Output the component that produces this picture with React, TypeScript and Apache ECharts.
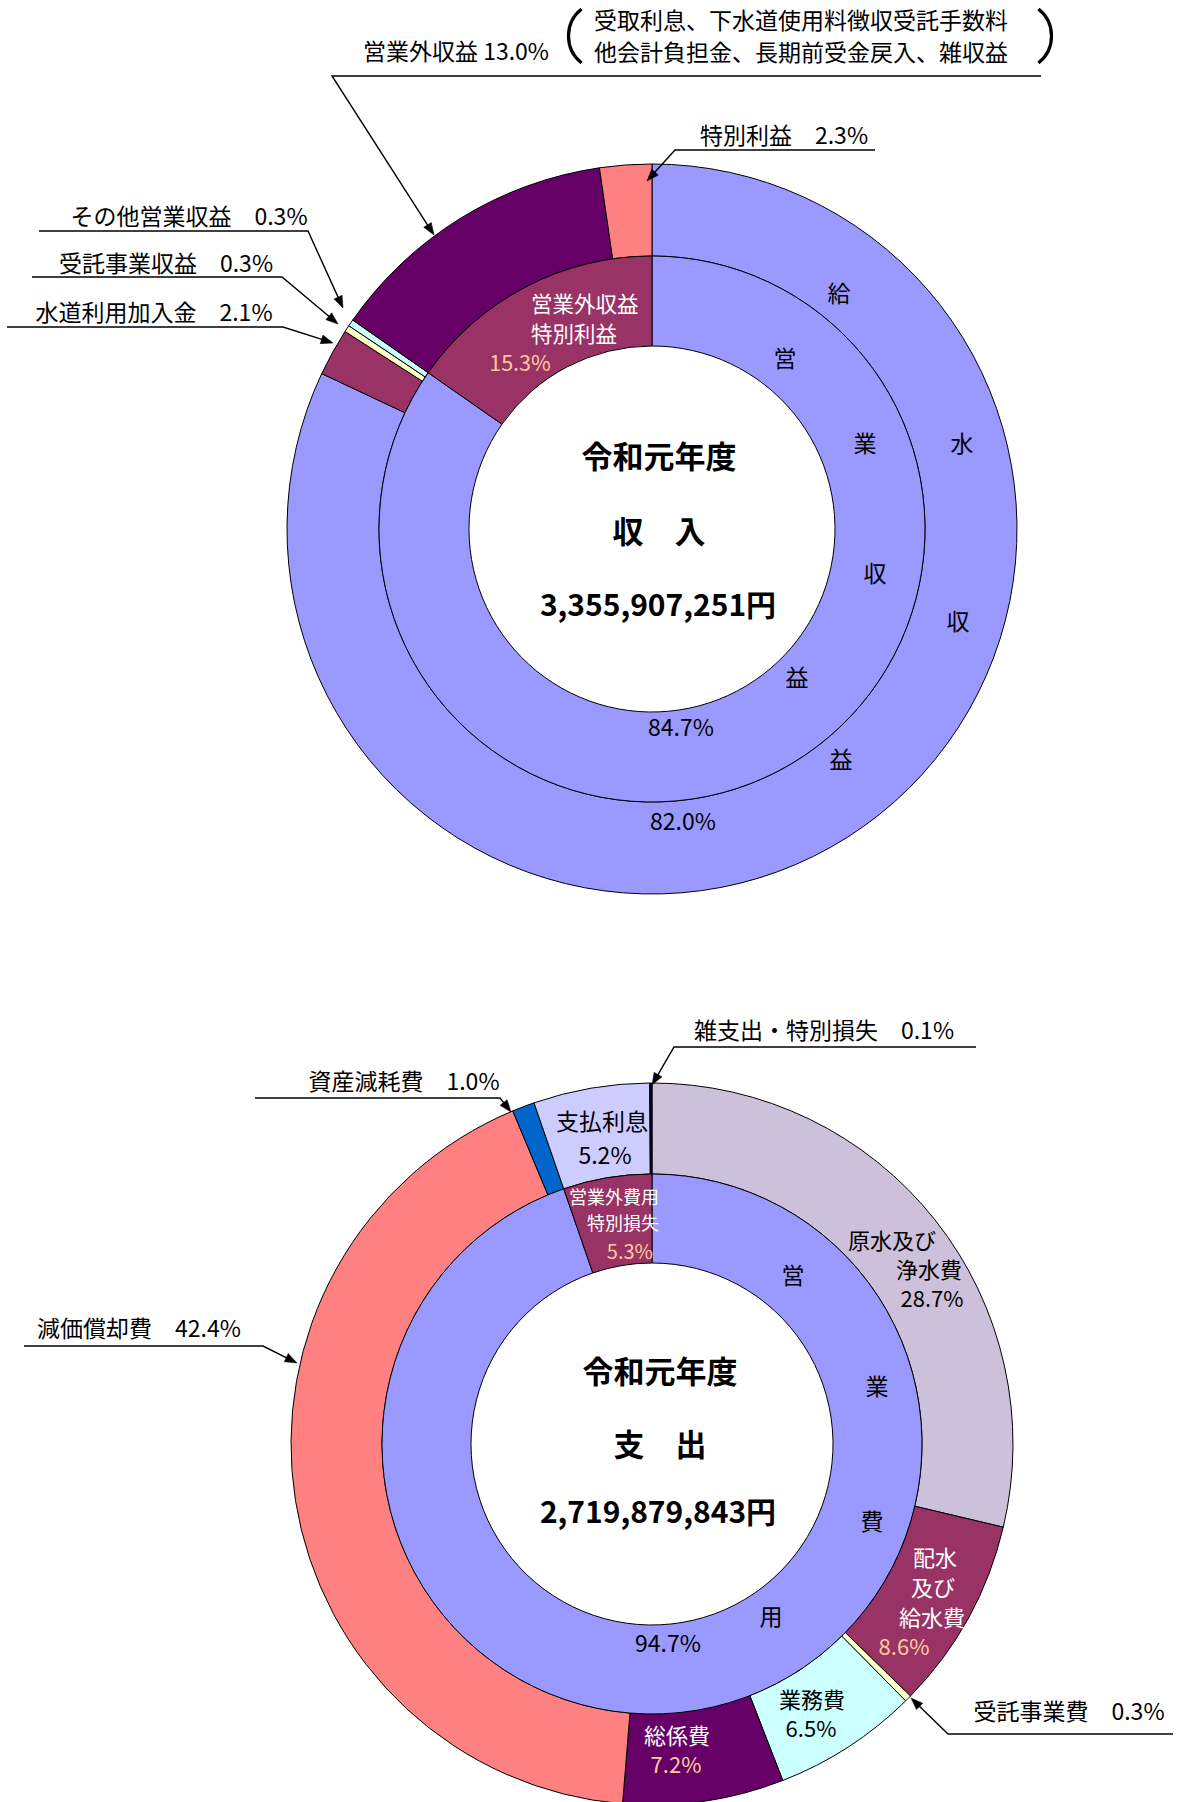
import React, { useEffect, useRef } from "react";
import * as echarts from "echarts";

const W = 1177;
const H = 1802;
const FONT = "'Noto Sans CJK JP', 'Noto Sans', sans-serif";

// ===== 収入 (revenue) =====
const revOuterNames = ["給水収益", "水道利用加入金", "受託事業収益", "その他営業収益", "営業外収益", "特別利益"];
const revOuterValues = [82.0, 2.1, 0.3, 0.3, 13.0, 2.3];
const revOuterColors = ["#9999FF", "#993366", "#FFFFCC", "#CCFFFF", "#660066", "#FF8080"];
const revInnerNames = ["営業収益", "営業外収益・特別利益"];
const revInnerValues = [84.7, 15.3];
const revInnerColors = ["#9999FF", "#993366"];
const revTitle = "令和元年度";
const revTotal = "3,355,907,251円";
const revNote1 = "受取利息、下水道使用料徴収受託手数料";
const revNote2 = "他会計負担金、長期前受金戻入、雑収益";

// ===== 支出 (expense) =====
const expOuterNames = ["原水及び浄水費", "配水及び給水費", "受託事業費", "業務費", "総係費", "減価償却費", "資産減耗費", "支払利息", "雑支出・特別損失"];
const expOuterValues = [28.7, 8.6, 0.3, 6.5, 7.2, 42.4, 1.0, 5.2, 0.1];
const expOuterColors = ["#CCC0DA", "#993366", "#FFFFCC", "#CCFFFF", "#660066", "#FF8080", "#0066CC", "#CCCCFF", "#000040"];
const expInnerNames = ["営業費用", "営業外費用・特別損失"];
const expInnerValues = [94.7, 5.3];
const expInnerColors = ["#9999FF", "#993366"];
const expTotal = "2,719,879,843円";

// geometry
const REV_C = [652, 529];
const EXP_C = [652, 1444];
const DY = -3;

const pct = (v: number) => v.toFixed(1) + "%";

function pie(centerPt: number[], radius: number[], names: string[], values: number[], colors: string[]) {
  return {
    type: "pie",
    center: centerPt,
    radius,
    startAngle: 90,
    clockwise: true,
    silent: true,
    animation: false,
    avoidLabelOverlap: false,
    label: { show: false },
    labelLine: { show: false },
    emphasis: { disabled: true },
    itemStyle: { borderColor: "#000", borderWidth: 1 },
    data: names.map((n, i) => ({ name: n, value: values[i], itemStyle: { color: colors[i] } })),
  };
}

function txt(text: string, x: number, y: number, opts: any = {}) {
  const size = opts.size || 23;
  const style: any = {
    text,
    fill: opts.fill || "#000",
    fontSize: size,
    fontFamily: FONT,
    fontWeight: opts.bold ? "bold" : "normal",
    align: opts.align || "center",
    textAlign: opts.align || "center",
    verticalAlign: "middle",
    textVerticalAlign: "middle",
  };
  return { type: "text", x, y: y + DY, z: 100, silent: true, style };
}

function leader(points: number[][]) {
  const n = points.length;
  const [tx, ty] = points[n - 1];
  const [px, py] = points[n - 2];
  const dx = tx - px;
  const dy = ty - py;
  const len = Math.hypot(dx, dy);
  const ux = dx / len;
  const uy = dy / len;
  const L = 12;
  const hw = 4.5;
  const bx = tx - ux * L;
  const by = ty - uy * L;
  const linePts = points.slice(0, n - 1).concat([[bx + ux * 2, by + uy * 2]]);
  return [
    {
      type: "polyline",
      z: 100,
      silent: true,
      shape: { points: linePts },
      style: { stroke: "#000", lineWidth: 1.4, fill: null },
    },
    {
      type: "polygon",
      z: 100,
      silent: true,
      shape: { points: [[tx, ty], [bx - uy * hw, by + ux * hw], [bx + uy * hw, by - ux * hw]] },
      style: { fill: "#000", stroke: "#000", lineWidth: 0.5 },
    },
  ];
}

function paren(cx: number, cy: number, r: number, left: boolean) {
  const a = 0.9;
  return {
    type: "arc",
    z: 100,
    silent: true,
    shape: left
      ? { cx, cy, r, startAngle: Math.PI - a, endAngle: Math.PI + a, clockwise: true }
      : { cx, cy, r, startAngle: -a, endAngle: a, clockwise: true },
    style: { stroke: "#000", lineWidth: 3.2, fill: null },
  };
}

export default function App() {
  const ref = useRef<HTMLDivElement>(null);

  useEffect(() => {
    if (!ref.current) return;
    const chart = echarts.init(ref.current, null, { renderer: "svg", width: W, height: H });
    const S = "\u3000";
    const white = "#FFFFFF";
    const peach = "#FFCC99";

    const elements: any[] = [
      // ---------- revenue annotations ----------
      txt(revOuterNames[4] + " " + pct(revOuterValues[4]), 456, 53),
      txt(revNote1, 801, 22, { size: 23 }),
      txt(revNote2, 801, 54, { size: 23 }),
      paren(603, 36, 34.5, true),
      paren(1017, 36, 34.5, false),
      ...leader([[1041, 76], [332, 76], [434, 235]]),
      txt(revOuterNames[5] + S + pct(revOuterValues[5]), 784, 137),
      ...leader([[875, 150], [675, 150], [647, 181]]),
      txt(revOuterNames[3] + S + pct(revOuterValues[3]), 189, 218),
      ...leader([[39, 231], [308, 231], [343, 308]]),
      txt(revOuterNames[2] + S + pct(revOuterValues[2]), 166, 265),
      ...leader([[32, 277], [282, 277], [338, 324]]),
      txt(revOuterNames[1] + S + pct(revOuterValues[1]), 154, 314),
      ...leader([[7, 327], [283, 327], [333, 343]]),

      // revenue inner labels
      txt("営業外収益", 531, 305, { fill: white, align: "left", size: 21.5 }),
      txt("特別利益", 531, 335, { fill: white, align: "left", size: 21.5 }),
      txt(pct(revInnerValues[1]), 520, 364, { fill: peach, size: 21.5 }),
      txt("給", 839, 295),
      txt("水", 962, 445),
      txt("収", 958, 623),
      txt("益", 841, 761),
      txt("営", 785, 360),
      txt("業", 865, 445),
      txt("収", 875, 575),
      txt("益", 797, 679),
      txt(pct(revInnerValues[0]), 681, 729),
      txt(pct(revOuterValues[0]), 683, 823),
      txt(revTitle, 659, 457, { size: 31, bold: true }),
      txt("収", 628, 532, { size: 31, bold: true }),
      txt("入", 690, 532, { size: 31, bold: true }),
      txt(revTotal, 658, 606, { size: 30, bold: true }),

      // ---------- expense annotations ----------
      txt(expOuterNames[8] + S + pct(expOuterValues[8]), 824, 1032),
      ...leader([[976, 1047], [674, 1047], [652, 1085]]),
      txt(expOuterNames[6] + S + pct(expOuterValues[6]), 404, 1083),
      ...leader([[255, 1098], [500, 1098], [511, 1112]]),
      txt(expOuterNames[5] + S + pct(expOuterValues[5]), 139, 1330),
      ...leader([[24, 1346], [263, 1346], [297, 1363]]),
      txt(expOuterNames[2] + S + pct(expOuterValues[2]), 1069, 1713),
      ...leader([[1173, 1734], [948, 1734], [911, 1698]]),

      // expense inner labels
      txt(expOuterNames[7], 602, 1123),
      txt(pct(expOuterValues[7]), 605, 1157),
      txt("営業外費用", 659, 1199, { fill: white, size: 18, align: "right" }),
      txt("特別損失", 659, 1225, { fill: white, size: 18, align: "right" }),
      txt(pct(expInnerValues[1]), 653, 1253, { fill: peach, size: 20, align: "right" }),
      txt("原水及び", 892, 1242, { size: 22 }),
      txt("浄水費", 929, 1271, { size: 22 }),
      txt(pct(expOuterValues[0]), 932, 1300, { size: 22 }),
      txt("配水", 935, 1559, { fill: white, size: 22 }),
      txt("及び", 933, 1589, { fill: white, size: 22 }),
      txt("給水費", 932, 1619, { fill: white, size: 22 }),
      txt(pct(expOuterValues[1]), 904, 1648, { fill: peach, size: 22 }),
      txt(expOuterNames[3], 812, 1701, { size: 22 }),
      txt(pct(expOuterValues[3]), 811, 1730, { size: 22 }),
      txt(expOuterNames[4], 677, 1737, { fill: white, size: 22 }),
      txt(pct(expOuterValues[4]), 676, 1766, { fill: peach, size: 22 }),
      txt("営", 793, 1277),
      txt("業", 877, 1388),
      txt("費", 872, 1523),
      txt("用", 771, 1618),
      txt(pct(expInnerValues[0]), 668, 1645),
      txt(revTitle, 660, 1372, { size: 31, bold: true }),
      txt("支", 629, 1445, { size: 31, bold: true }),
      txt("出", 691, 1445, { size: 31, bold: true }),
      txt(expTotal, 658, 1513, { size: 30, bold: true }),
    ];

    chart.setOption({
      animation: false,
      backgroundColor: "#FFFFFF",
      series: [
        pie(REV_C, [273, 365], revOuterNames, revOuterValues, revOuterColors),
        pie(REV_C, [183, 273], revInnerNames, revInnerValues, revInnerColors),
        pie(EXP_C, [270, 361], expOuterNames, expOuterValues, expOuterColors),
        pie(EXP_C, [181, 270], expInnerNames, expInnerValues, expInnerColors),
      ],
      graphic: { elements },
    });

    return () => chart.dispose();
  }, []);

  return (
    <div
      ref={ref}
      style={{ position: "absolute", left: 0, top: 0, width: W, height: H, background: "#fff" }}
    />
  );
}
